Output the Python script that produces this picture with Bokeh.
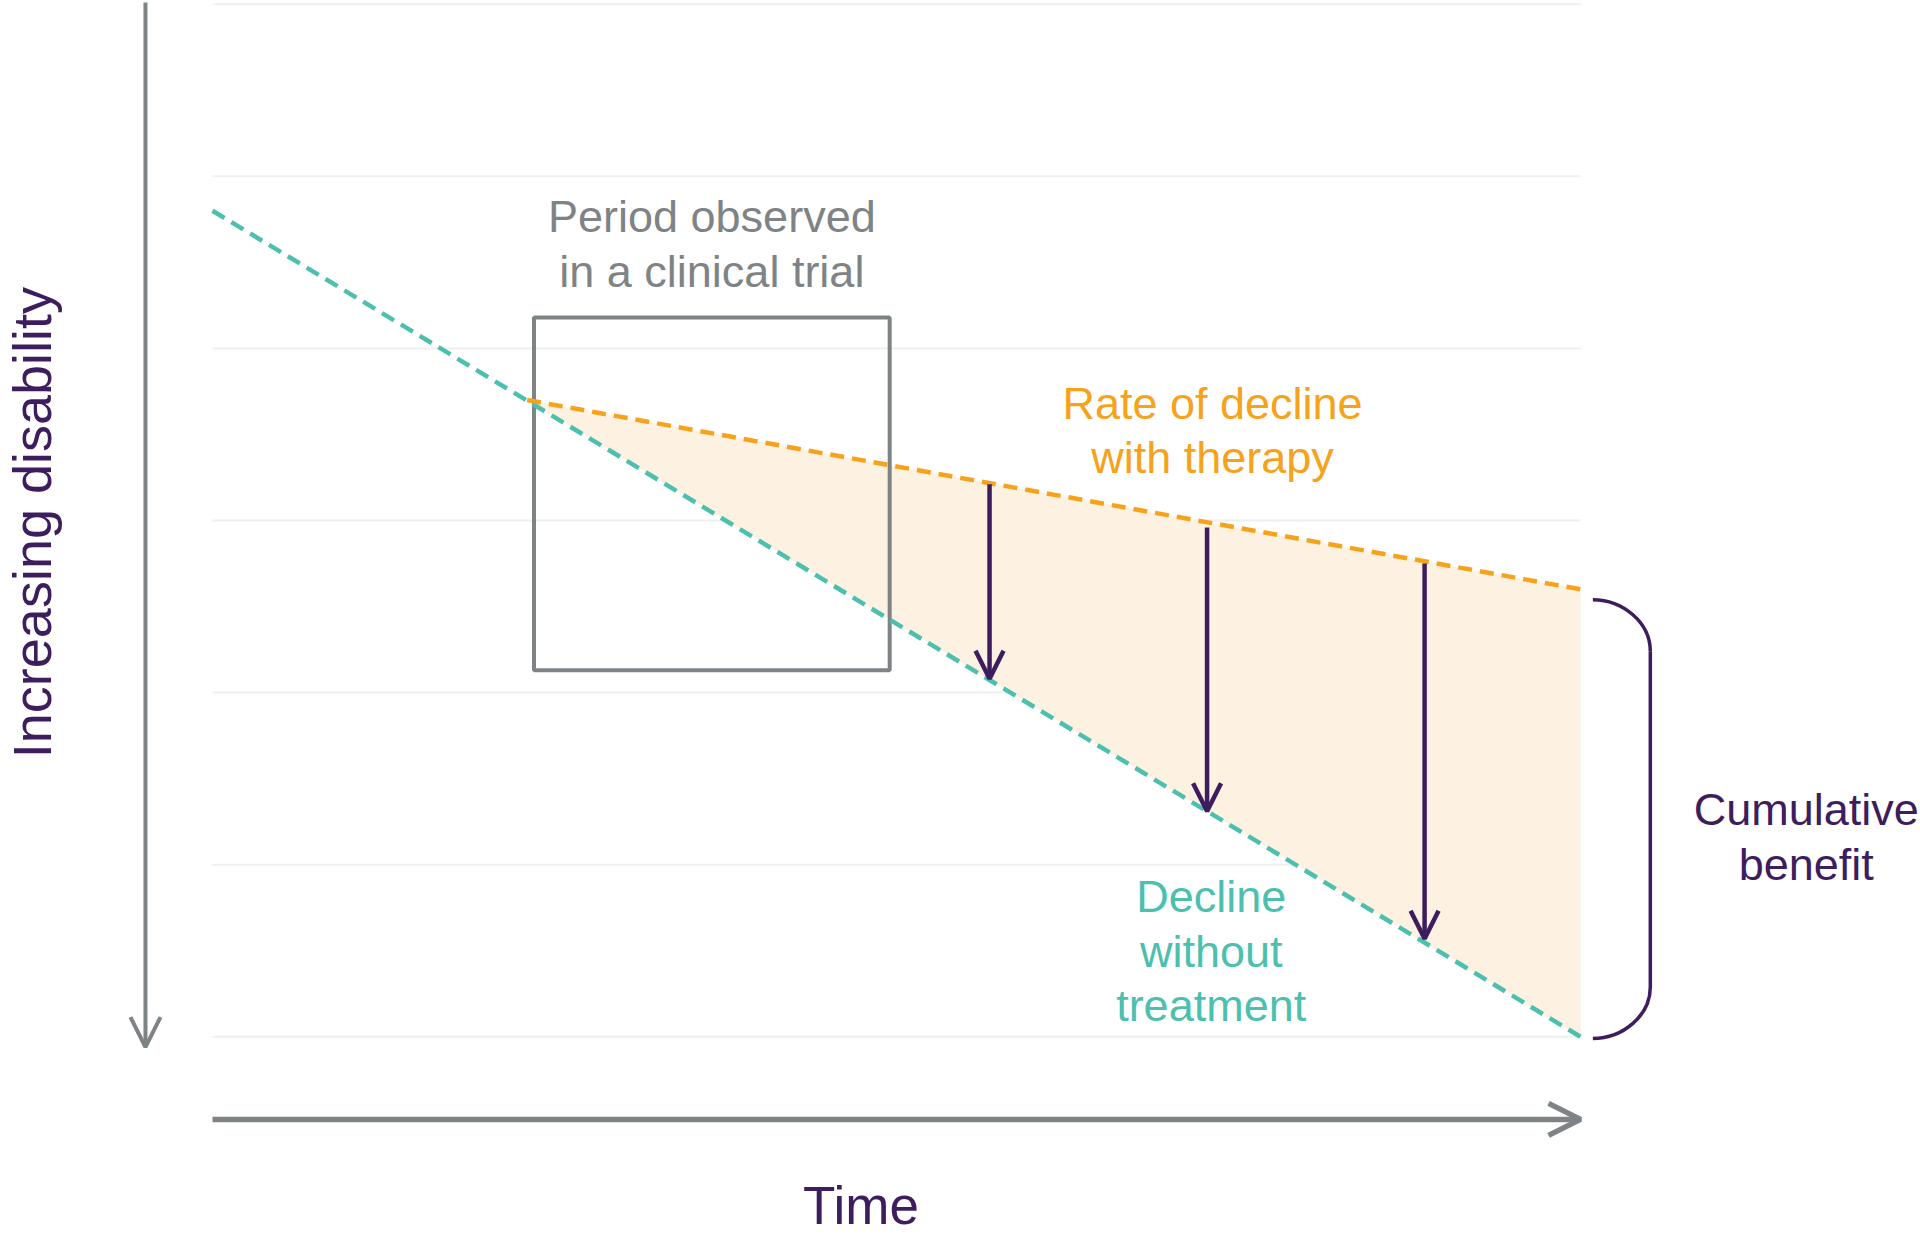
from bokeh.plotting import figure
from bokeh.models import Range1d, Arrow, OpenHead, ColumnDataSource
from bokeh.core.properties import value
from bokeh.embed import file_html
from bokeh.resources import INLINE

# ---------------- data (conceptual units: time 0..10, disability 0..6, increasing downward)
time_untreated = [0.0, 10.0]
disability_untreated = [1.2, 6.0]
time_therapy = [2.3, 10.0]
disability_therapy = [2.3, 3.4]
disability_untreated_on_therapy_span = [2.3, 6.0]
benefit_time = [5.68, 7.27, 8.86]
benefit_from = [2.79, 3.04, 3.25]
benefit_to = [3.92, 4.69, 5.43]
trial_time = [2.35, 4.95]
trial_disability = [1.82, 3.87]
grid_levels = [0, 1, 2, 3, 4, 5, 6]
time_extent = [0.0, 10.0]
bracket_span = [3.46, 6.01]

# ---------------- colours
TEAL = "#4cbfaf"
ORANGE = "#f7a21b"
FILL = "#fdf2e1"
PURPLE = "#3d1d5d"
GRAY = "#7e8386"
GRID = "#efefef"
FONT = value("Liberation Sans")

W, H = 1920, 1239
p = figure(width=W, height=H, output_backend="svg", toolbar_location=None,
           x_range=Range1d(-1.5497, 12.485), y_range=Range1d(7.1778, -0.0215),
           x_axis_type=None, y_axis_type=None, min_border=0,
           outline_line_color=None, background_fill_color="white",
           border_fill_color="white")
for g in p.grid:
    g.visible = False

# grid lines
p.segment(x0=[time_extent[0]] * len(grid_levels), x1=[time_extent[1]] * len(grid_levels),
          y0=grid_levels, y1=grid_levels, line_color=GRID, line_width=2)

# cumulative benefit area
p.varea(x=time_therapy, y1=disability_therapy, y2=disability_untreated_on_therapy_span,
        fill_color=FILL)

# trial window box
p.quad(left=[trial_time[0]], right=[trial_time[1]], top=[trial_disability[0]],
       bottom=[trial_disability[1]], fill_color=None, line_color=GRAY, line_width=4)

# lines
p.line(time_untreated, disability_untreated, line_color=TEAL, line_width=4.5, line_dash="14 8")
p.line(time_therapy, disability_therapy, line_color=ORANGE, line_width=4.5, line_dash="14 8")

# benefit arrows
src = ColumnDataSource(dict(x=benefit_time, y0=benefit_from, y1=benefit_to))
p.add_layout(Arrow(end=OpenHead(size=28, line_color=PURPLE, line_width=4.5),
                   x_start="x", y_start="y0", x_end="x", y_end="y1", source=src,
                   line_color=PURPLE, line_width=4.5))

# axes arrows
axis_x = -0.49
p.add_layout(Arrow(end=OpenHead(size=30, line_color=GRAY, line_width=4),
                   x_start=axis_x, y_start=-0.01, x_end=axis_x, y_end=6.06,
                   line_color=GRAY, line_width=4))
axis_y = 6.48
p.add_layout(Arrow(end=OpenHead(size=32, line_color=GRAY, line_width=5.5),
                   x_start=time_extent[0], y_start=axis_y, x_end=time_extent[1], y_end=axis_y,
                   line_color=GRAY, line_width=5.5))

# bracket for cumulative benefit
bx0, bx1 = 10.09, 10.51
rx, ry = 0.40, 0.30
k = 0.5523
top, bot = bracket_span
p.bezier(x0=[bx0, bx1], y0=[top, bot - ry], x1=[bx1, bx0], y1=[top + ry, bot],
         cx0=[bx0 + k * rx, bx1], cy0=[top, bot - ry + k * ry],
         cx1=[bx1, bx0 + k * rx], cy1=[top + ry - k * ry, bot],
         line_color=PURPLE, line_width=3.5)
p.segment(x0=[bx1], x1=[bx1], y0=[top + ry], y1=[bot - ry], line_color=PURPLE, line_width=3.5)

# texts
def txt(x, ys, lines, color, size, angle=0.0):
    p.text(x=[x] * len(lines), y=ys, text=lines, text_color=color, text_font=FONT,
           text_font_size=size, text_align="center", text_baseline="middle", angle=angle)

txt(3.65, [1.231, 1.552], ["Period observed", "in a clinical trial"], GRAY, "45px")
txt(7.31, [2.320, 2.634], ["Rate of decline", "with therapy"], ORANGE, "45px")
txt(7.30, [5.185, 5.505, 5.818], ["Decline", "without", "treatment"], TEAL, "45px")
txt(11.65, [4.679, 4.999], ["Cumulative", "benefit"], PURPLE, "45px")
txt(4.74, [6.980], ["Time"], PURPLE, "53px")
txt(-1.323, [3.012], ["Increasing disability"], PURPLE, "54px", angle=1.5708)

open("out.html", "w").write(file_html(p, INLINE))
